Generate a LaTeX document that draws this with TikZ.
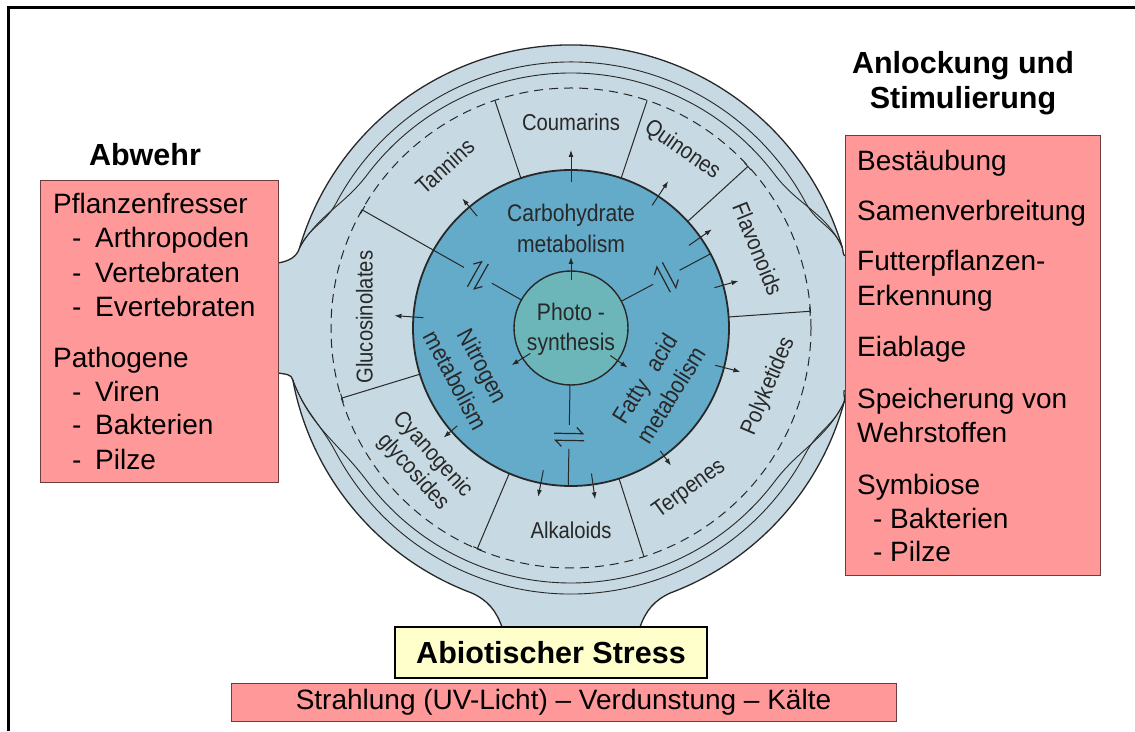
\documentclass[tikz,border=0pt]{standalone}
\usepackage{fontspec}
\setmainfont{Liberation Sans}
\newfontfamily\diskfont[FakeStretch=0.88]{Liberation Sans}
\usetikzlibrary{arrows.meta,positioning}

\definecolor{ringblue}{RGB}{199,217,226}
\definecolor{metblue}{RGB}{100,170,201}
\definecolor{photogreen}{RGB}{108,182,186}
\definecolor{boxred}{RGB}{255,153,153}
\definecolor{boxline}{RGB}{110,60,60}
\definecolor{stressyellow}{RGB}{255,255,204}
\definecolor{ink}{RGB}{40,40,40}

\newcommand{\dashitem}[2]{\makebox[#1][l]{-}#2}

\tikzset{equil/.pic={
  \draw[ink, line width=1.2pt, -{Straight Barb[harpoon,length=6pt]}] (-15,3.5) -- (15,3.5);
  \draw[ink, line width=1.2pt, -{Straight Barb[harpoon,length=6pt]}] (15,-3.5) -- (-15,-3.5);
}}

\begin{document}
\begin{tikzpicture}[x=1pt,y=1pt,
  redbox/.style={draw=boxline, fill=boxred, line width=1pt, inner sep=0pt},
  boxtext/.style={font=\fontsize{28}{34}\selectfont, anchor=base west, inner sep=0pt},
  headline/.style={font=\fontsize{30.5}{34}\selectfont\bfseries, anchor=base, inner sep=0pt},
  seglabel/.style={font=\diskfont\fontsize{23}{26}\selectfont, text=ink, inner sep=0pt},
  metlabel/.style={font=\diskfont\fontsize{24}{31}\selectfont, text=ink, align=center, inner sep=0pt},
  outarrow/.style={draw=ink, line width=1pt, -{Latex[length=7pt,width=5pt]}},
  divider/.style={draw=ink, line width=1pt},
  bandline/.style={draw=ink, line width=0.9pt}]

\useasboundingbox (0,0) rectangle (1135,731);

% the plant cell disk
\begin{scope}[shift={(571,403)}]
  \draw[fill=ringblue, draw=ink, line width=1.3pt]
    (163.5:283) arc[start angle=163.5, end angle=16.5, radius=283]
    to[out=-73.5, in=180] (275,72) -- (275,-62)
    to[out=180, in=75] (-15:283)
    arc[start angle=-15, end angle=-69.5, radius=283]
    to[out=-155, in=70] (69,-299) -- (-69,-299)
    to[out=110, in=-25] (249.5:283)
    arc[start angle=249.5, end angle=190.6, radius=283]
    to[out=100, in=-10] (-293,-45) -- (-293,65)
    to[out=10, in=253.5] (163.5:283) -- cycle;

  % bands of the outer ring
  \draw[bandline] (163.5:283) to[out=60, in=233] (143:255)
    arc[start angle=143, end angle=37, radius=255] to[out=-53, in=115] (16.5:283);
  \draw[bandline] (163.5:283) to[out=65, in=242] (152:266)
    arc[start angle=152, end angle=28, radius=266] to[out=-62, in=112] (16.5:283);
  \draw[bandline] (-15:283) to[out=-115, in=53] (-37:255)
    arc[start angle=-37, end angle=-143, radius=255] to[out=127, in=-70] (190.6:283);
  \draw[bandline] (-15:283) to[out=-112, in=62] (-28:266)
    arc[start angle=-28, end angle=-152, radius=266] to[out=118, in=-70] (190.6:283);

  \draw[ink, line width=1pt, dash pattern=on 9pt off 6pt] (0,0) circle[radius=240];
  \draw[fill=metblue, draw=ink, line width=1.8pt] (0,0) circle[radius=158];
  \draw[fill=photogreen, draw=ink, line width=1.4pt] (0,0) circle[radius=57];

  % segment borders
  \foreach \a in {71.5,108.5,287.7}
    \draw[divider] (\a:158) -- (\a:240);
  \foreach \a in {4,42.4,197,247}
    \draw[divider, -{Bar[width=9pt]}] (\a:158) -- (\a:240);

  % spokes from photosynthesis
  \draw[divider] (150.5:57) -- (150.5:91);
  \draw[divider, -{Bar[width=9pt]}] (150.5:123) -- (150.5:240);
  \draw[divider] (28:57) -- (28:93);
  \draw[divider] (28:123) -- (28:158);
  \draw[divider] (269:57) -- (269:97);
  \draw[divider] (269:121) -- (269:158);
  \pic[rotate=60.5] at (150.5:107) {equil};
  \pic[rotate=-62] at (28:108) {equil};
  \pic[rotate=-1] at (269:109) {equil};

  \foreach \a/\ri/\ro in {90/146/178, 130/146/169, 56.5/147/176, 35/144/172,
      15.7/149/174, 345.5/149/175, 306/152/170, 259/145/172, 278/147/173,
      220.7/150/168, 176/148/177, 90/48/71, 212/48/70, 325/48/69}
    \draw[outarrow] (\a:\ri) -- (\a:\ro);

  \foreach \a/\r/\rot/\t in {90/206/0/Coumarins, 58/210/-35/Quinones,
      23/203/-68/Flavonoids, 343.5/206/67/Polyketides, 306.3/200/36/Terpenes,
      270/202/0/Alkaloids, 177/207/90/Glucosinolates, 128/205/42/Tannins}
    \node[seglabel, rotate=\rot] (seg-\t) at (\a:\r) {\t};
  \node[seglabel, rotate=-48, align=center] (seg-cyan) at (222.4:201) {Cyanogenic\\glycosides};

  \node[metlabel] (carb) at (90:100) {Carbohydrate\\metabolism};
  \node[metlabel, rotate=-62] (nitro) at (204:111) {Nitrogen\\metabolism};
  \node[metlabel, rotate=58] (fatty) at (326:105) {Fatty\hspace{14pt}acid\\metabolism};
  \node[metlabel, font=\diskfont\fontsize{24}{30}\selectfont] (photo) at (0,-1) {Photo -\\synthesis};
\end{scope}

% boxes round the disk
\node[headline] (abwehr) at (145,565) {Abwehr};
\node[redbox, minimum width=238, minimum height=302, anchor=north west] (abwehrbox) at (40,551) {};
\foreach \xx/\yy/\txt [count=\i] in {53/517/Pflanzenfresser,
    72/483/\dashitem{23pt}{Arthropoden}, 72/448/\dashitem{23pt}{Vertebraten},
    72/414/\dashitem{23pt}{Evertebraten}, 53/363/Pathogene,
    72/329/\dashitem{23pt}{Viren}, 72/296/\dashitem{23pt}{Bakterien},
    72/261/\dashitem{23pt}{Pilze}}
  \node[boxtext] (abwehr\i) at (\xx,\yy) {\txt};

\node[headline] (anlock) at (963,657) {Anlockung und};
\node[headline] (stimul) at (963,622) {Stimulierung};
\node[redbox, minimum width=255, minimum height=440, anchor=north west] (anlockbox) at (845,596) {};
\foreach \xx/\yy/\txt [count=\i] in {857/560/Bestäubung, 857/510/Samenverbreitung,
    857/460/Futterpflanzen-, 857/425/Erkennung, 857/374/Eiablage,
    857/322/Speicherung von, 857/288/Wehrstoffen, 857/236/Symbiose,
    873/202/\dashitem{17pt}{Bakterien}, 873/169/\dashitem{17pt}{Pilze}}
  \node[boxtext] (anlock\i) at (\xx,\yy) {\txt};

\node[draw=black, fill=stressyellow, line width=1.2pt, minimum width=312, minimum height=51,
  inner sep=0pt, font=\fontsize{30.5}{34}\selectfont\bfseries] (stress) at (551,78.5) {Abiotischer Stress};
\node[redbox, minimum width=665, minimum height=38, font=\fontsize{28}{30}\selectfont]
  (stressbox) at (563.5,29) {Strahlung (UV-Licht) – Verdunstung – Kälte};

\draw[line width=3pt] (8,0) -- (8,723) -- (1135,723);
\end{tikzpicture}
\end{document}
